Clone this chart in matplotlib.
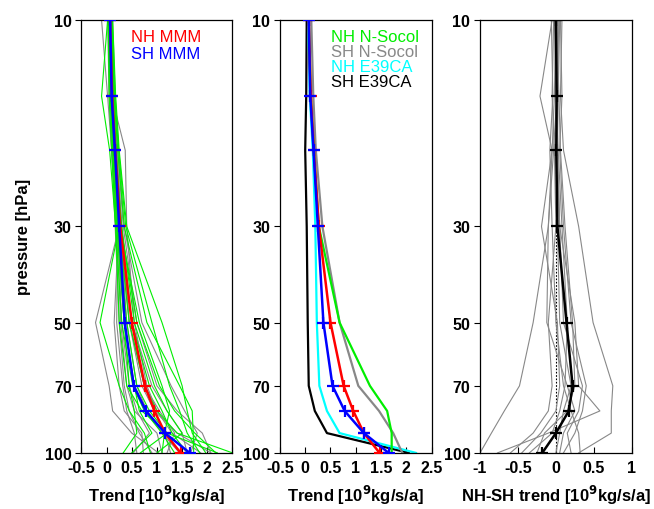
import matplotlib
matplotlib.use("Agg")
import matplotlib.pyplot as plt
from matplotlib.ticker import FixedLocator, NullLocator

plt.rcParams['font.family'] = ['Liberation Sans', 'DejaVu Sans']

# pressure levels [hPa]
levels = [10, 15, 20, 30, 50, 70, 80, 90, 100]

# multi model means [10^9 kg/s/a]
nh_mmm = [0.07, 0.11, 0.17, 0.27, 0.50, 0.76, 0.95, 1.16, 1.47]
sh_mmm = [0.07, 0.10, 0.165, 0.25, 0.36, 0.54, 0.78, 1.16, 1.65]

# single models, NH (green) and SH (gray)
nh_models = [
    [0.05, 0.08, 0.14, 0.24, 0.45, 0.75, 1.00, 1.40, 2.50],
    [0.02, -0.10, 0.06, 0.18, 0.30, 0.52, 0.75, 1.10, 1.35],
    [0.08, 0.10, 0.15, 0.25, -0.13, 0.25, 0.45, 0.75, 0.87],
    [0.10, 0.15, 0.22, 0.35, 0.80, 1.45, 1.70, 1.72, 1.73],
    [0.06, 0.09, 0.16, 0.28, 0.60, 1.05, 1.35, 1.75, 2.17],
    [0.04, 0.07, 0.12, 0.20, 0.35, 0.45, 0.55, 0.60, 0.33],
    [0.12, 0.18, 0.25, 0.40, 1.10, 1.50, 1.60, 1.70, 1.97],
    [0.07, 0.11, 0.18, 0.30, 0.55, 0.95, 1.20, 1.50, 1.00],
    [0.03, 0.05, 0.10, 0.18, 0.25, 0.40, 0.70, 1.20, 0.67],
    [0.09, 0.13, 0.19, 0.27, 0.50, 0.85, 1.10, 1.30, 1.60],
    [0.05, 0.09, 0.14, 0.22, 0.40, 0.60, 0.85, 1.20, 2.20],
    [0.11, 0.16, 0.24, 0.38, 0.90, 1.25, 1.45, 1.60, 1.85],
    [0.06, 0.10, 0.15, 0.23, 0.35, 0.55, 0.65, 0.90, 0.50],
    [0.08, 0.12, 0.17, 0.26, 0.65, 1.10, 1.25, 1.15, 1.10],
]
sh_models = [
    [-0.10, 0.02, 0.10, 0.20, 0.35, 0.55, 0.80, 1.10, 1.45],
    [0.05, 0.10, 0.37, 0.40, 0.55, 0.80, 1.00, 1.30, 1.87],
    [0.08, 0.10, 0.15, 0.25, -0.22, 0.05, 0.12, 0.50, 1.03],
    [0.10, 0.14, 0.20, 0.30, 0.45, 0.70, 0.95, 1.40, 2.07],
    [0.03, 0.07, 0.13, 0.22, 0.30, 0.45, 0.60, 0.85, 0.53],
    [0.06, 0.09, 0.15, 0.24, 0.15, 0.25, 0.35, 0.70, 0.73],
    [0.12, 0.17, 0.24, 0.35, 0.70, 1.28, 1.55, 1.80, 1.67],
    [0.04, 0.08, 0.12, 0.20, 0.28, 0.40, 0.55, 1.00, 1.10],
    [0.07, 0.12, 0.18, 0.27, 0.40, 0.60, 0.80, 1.15, 1.27],
    [0.09, 0.13, 0.20, 0.30, 0.50, 0.90, 1.20, 1.50, 1.60],
    [0.02, 0.05, 0.10, 0.17, 0.25, 0.35, 0.45, 0.65, 0.90],
    [0.11, 0.15, 0.22, 0.33, 0.60, 1.00, 1.40, 1.90, 2.07],
    [0.05, 0.08, 0.14, 0.22, 0.20, 0.32, 0.40, 0.55, 0.60],
    [0.08, 0.11, 0.17, 0.26, 0.45, 0.75, 1.05, 1.35, 1.20],
]

# selected models
nh_nsocol = [0.07, 0.11, 0.17, 0.27, 0.68, 1.28, 1.62, 1.71, 1.71]
sh_nsocol = [0.12, 0.16, 0.21, 0.34, 0.68, 1.05, 1.46, 1.74, 1.92]
nh_e39ca = [0.06, 0.09, 0.15, 0.20, 0.23, 0.28, 0.43, 0.68, 2.19]
sh_e39ca = [0.03, 0.02, 0.00, 0.03, 0.05, 0.07, 0.19, 0.43, 2.05]

# NH-SH differences of single models
diff_models = [
    [0.00, -0.02, -0.05, -0.10, -0.30, -0.48, -0.68, -0.85, -1.00],
    [0.05, 0.03, 0.02, 0.05, 0.25, 0.30, 0.58, -0.10, -0.77],
    [0.08, 0.06, 0.10, 0.30, 0.49, 0.75, 0.73, 0.73, 0.30],
    [-0.05, -0.21, -0.05, -0.19, 0.02, 0.05, 0.00, -0.20, -0.45],
    [0.02, 0.00, 0.02, 0.05, 0.10, 0.35, 0.30, 0.15, 0.20],
    [-0.03, -0.05, -0.02, 0.00, -0.10, -0.05, -0.10, -0.30, -0.60],
    [0.06, 0.08, 0.05, 0.10, 0.20, 0.40, 0.35, 0.25, 0.10],
    [-0.02, 0.00, 0.03, 0.08, 0.15, 0.12, 0.05, -0.05, -0.35],
    [0.03, 0.02, 0.00, 0.02, 0.05, 0.20, 0.10, 0.05, 0.00],
    [-0.06, -0.04, -0.08, -0.05, 0.00, 0.10, 0.20, 0.30, 0.32],
    [0.01, 0.04, 0.06, 0.12, 0.22, 0.25, 0.15, -0.15, -0.25],
    [0.04, 0.01, -0.03, -0.10, -0.12, 0.15, 0.25, 0.10, 0.05],
]
diff_mmm = [n - s for n, s in zip(nh_mmm, sh_mmm)]

p_ticks = [10, 30, 50, 70, 100]
trend_ticks = [-0.5, 0, 0.5, 1, 1.5, 2, 2.5]
diff_ticks = [-1, -0.5, 0, 0.5, 1]

GREEN = '#00ee00'
GRAY = '#888888'
FS = 11.5


def setup_axis(ax, xlim, xticks, xlabel):
    ax.set_yscale('log')
    ax.set_ylim(100, 10)
    ax.set_xlim(*xlim)
    ax.yaxis.set_major_locator(FixedLocator(p_ticks))
    ax.yaxis.set_minor_locator(NullLocator())
    ax.set_yticklabels([str(p) for p in p_ticks])
    ax.set_xticks(xticks)
    ax.set_xticklabels(['%g' % t for t in xticks])
    ax.tick_params(axis='x', direction='in', length=4, width=0.8, pad=5, labelsize=FS)
    ax.tick_params(axis='y', direction='out', length=4, width=0.8, pad=3, labelsize=FS)
    for lab in ax.get_xticklabels() + ax.get_yticklabels():
        lab.set_fontweight('bold')
    for sp in ax.spines.values():
        sp.set_linewidth(0.9)
    ax.set_xlabel(xlabel, fontsize=FS + 0.5, fontweight='bold', labelpad=6)


def plot_mmm(ax, values, color):
    ax.plot(values, levels, color=color, lw=1.8, marker='+', ms=9, mew=1.6, zorder=5)


fig = plt.figure(figsize=(6.54, 5.10), dpi=100)
bottom, height = 0.110, 0.849
ax1 = fig.add_axes([0.1245, bottom, 0.231, height])
ax2 = fig.add_axes([0.428, bottom, 0.232, height])
ax3 = fig.add_axes([0.734, bottom, 0.232, height])

trend_label = r'Trend [10$^\mathbf{9}$kg/s/a]'

# panel 1: all models
for vals in sh_models:
    ax1.plot(vals, levels, color=GRAY, lw=0.8)
for vals in nh_models:
    ax1.plot(vals, levels, color=GREEN, lw=0.8)
plot_mmm(ax1, nh_mmm, 'red')
plot_mmm(ax1, sh_mmm, 'blue')
setup_axis(ax1, (-0.5, 2.5), trend_ticks, trend_label)
ax1.set_ylabel('pressure [hPa]', fontsize=FS + 0.5, fontweight='bold', labelpad=10)
ax1.text(0.33, 0.978, 'NH MMM', color='red', fontsize=12, transform=ax1.transAxes, va='top')
ax1.text(0.33, 0.940, 'SH MMM', color='blue', fontsize=12, transform=ax1.transAxes, va='top')

# panel 2: selected models
ax2.plot(sh_e39ca, levels, color='black', lw=1.6)
ax2.plot(nh_e39ca, levels, color='cyan', lw=1.6)
ax2.plot(sh_nsocol, levels, color=GRAY, lw=1.6)
ax2.plot(nh_nsocol, levels, color=GREEN, lw=1.6)
plot_mmm(ax2, nh_mmm, 'red')
plot_mmm(ax2, sh_mmm, 'blue')
setup_axis(ax2, (-0.5, 2.5), trend_ticks, trend_label)
legend2 = [('NH N-Socol', GREEN), ('SH N-Socol', GRAY), ('NH E39CA', 'cyan'), ('SH E39CA', 'black')]
for i, (name, col) in enumerate(legend2):
    ax2.text(0.34, 0.978 - i * 0.034, name, color=col, fontsize=12,
             transform=ax2.transAxes, va='top')

# panel 3: NH-SH differences
ax3.axvline(0, color='black', lw=0.8, ls=(0, (1.5, 1.5)))
for vals in diff_models:
    ax3.plot(vals, levels, color=GRAY, lw=0.8)
ax3.plot(diff_mmm, levels, color='black', lw=1.8, marker='+', ms=9, mew=1.6, zorder=5)
setup_axis(ax3, (-1, 1), diff_ticks, r'NH-SH trend [10$^\mathbf{9}$kg/s/a]')

fig.savefig('out.png', dpi=100)
